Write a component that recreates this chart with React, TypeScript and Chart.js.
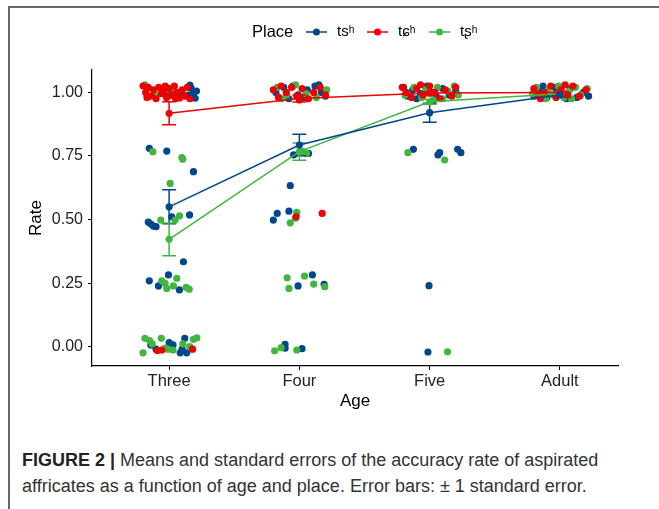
import React, { useEffect, useRef } from "react";
import { Chart, registerables } from "chart.js";

Chart.register(...registerables);

const ages = ["Three", "Four", "Five", "Adult"];
const places = ["tsʰ", "tɕʰ", "tʂʰ"];
const yTicks = [0, 0.25, 0.5, 0.75, 1.0];

// means and standard errors per age (Three, Four, Five, Adult)
const tsMean = [0.55, 0.793, 0.92, 0.99];
const tsSE = [0.067, 0.042, 0.037, 0.008];
const tcMean = [0.918, 0.976, 0.998, 1.0];
const tcSE = [0.045, 0.014, 0.004, 0.003];
const trMean = [0.422, 0.767, 0.963, 0.995];
const trSE = [0.064, 0.034, 0.01, 0.004];

// jittered individual rates: [age position, rate]
const tsPoints: number[][] = [
  [1.16, 1.029], [1.17, 1.016], [1.187, 0.996], [1.149, 0.989], [1.098, 0.996], [1.072, 0.986], [1.046, 0.983], [1.2, 0.977], [0.995, 0.986], [1.21, 1.005],
  [0.848, 0.78], [0.982, 0.769], [1.187, 0.688], [0.84, 0.49], [0.86, 0.482], [0.88, 0.474], [0.9, 0.472], [1.02, 0.511], [1.157, 0.518], [1.11, 0.334],
  [0.848, 0.259], [0.995, 0.282], [0.918, 0.239], [1.079, 0.223],
  [0.86, 0.007], [0.9, -0.01], [1.0, 0.016], [1.03, 0.007], [1.085, -0.024], [1.12, 0.033], [1.1, -0.01], [1.135, -0.024],
  [1.82, 1.0], [1.88, 1.02], [1.95, 1.025], [1.99, 0.99], [2.06, 1.01], [2.12, 1.025], [2.17, 1.0], [2.2, 0.985], [1.92, 0.975], [2.03, 0.98], [2.15, 1.03],
  [1.956, 0.754], [2.07, 0.76], [1.93, 0.633], [1.83, 0.524], [1.8, 0.498], [1.92, 0.533],
  [1.99, 0.239], [2.1, 0.282], [2.19, 0.245],
  [1.89, 0.009], [1.89, -0.006], [2.02, -0.008],
  [2.8, 1.02], [2.83, 0.985], [2.87, 1.01], [2.93, 0.995], [2.98, 1.025], [3.05, 0.985], [3.1, 1.015], [3.15, 0.99], [3.2, 1.005], [2.9, 0.975], [3.02, 1.0],
  [2.875, 0.776], [3.064, 0.754], [3.077, 0.763], [3.215, 0.776], [3.24, 0.763],
  [2.995, 0.24], [2.987, -0.021],
  [3.8, 0.985], [3.84, 1.01], [3.9, 0.98], [3.96, 1.02], [4.02, 0.99], [4.08, 1.015], [4.13, 0.98], [4.18, 1.0], [4.22, 0.985], [3.87, 1.025], [4.05, 0.975],
];

const tcPoints: number[][] = [
  [0.8, 1.025], [0.82, 1.0], [0.84, 1.02], [0.86, 0.985], [0.88, 1.01], [0.9, 0.975], [0.92, 1.02], [0.94, 0.995], [0.96, 1.005], [0.98, 0.98], [1.0, 1.015],
  [1.02, 0.99], [1.04, 1.025], [1.06, 1.0], [1.08, 0.978], [1.1, 1.01], [1.12, 0.985], [1.14, 1.02], [1.16, 0.975], [0.83, 0.98], [0.97, 1.025], [1.05, 0.975],
  [0.944, -0.013], [1.18, -0.01], [0.91, -0.015],
  [1.8, 1.01], [1.84, 0.98], [1.9, 1.0], [1.94, 1.02], [1.98, 0.985], [2.02, 1.015], [2.07, 0.975], [2.11, 1.0], [2.16, 1.02], [2.2, 0.99], [1.86, 1.025], [2.0, 0.97],
  [1.975, 0.511], [2.175, 0.524],
  [2.79, 1.02], [2.82, 1.0], [2.86, 0.98], [2.9, 1.015], [2.95, 0.99], [3.0, 1.025], [3.04, 1.0], [3.08, 0.975], [3.12, 1.01], [3.17, 0.985], [3.2, 1.02], [2.93, 1.03],
  [3.8, 1.015], [3.83, 0.99], [3.88, 1.0], [3.93, 1.025], [3.97, 0.98], [4.01, 1.01], [4.06, 0.99], [4.1, 1.025], [4.15, 0.985], [4.2, 1.01], [3.85, 0.975], [4.04, 1.03],
];

const trPoints: number[][] = [
  [0.815, 1.03], [0.9, 0.99], [1.03, 1.01],
  [0.875, 0.767], [1.098, 0.744], [1.105, 0.737], [1.008, 0.642], [0.936, 0.498], [1.046, 0.498], [1.08, 0.514],
  [0.944, 0.259], [0.969, 0.249], [0.982, 0.229], [1.033, 0.239], [1.059, 0.269], [1.131, 0.233], [1.154, 0.226],
  [0.815, 0.033], [0.85, 0.024], [0.8, -0.024], [0.87, 0.011], [0.94, 0.033], [0.97, -0.006], [0.99, -0.01], [1.03, -0.013], [1.105, 0.011], [1.158, 0.0], [1.187, 0.029], [1.213, 0.035],
  [1.83, 1.02], [1.9, 0.99], [1.97, 1.03], [2.05, 0.995], [2.13, 0.98], [2.21, 1.01], [1.86, 0.975],
  [2.03, 0.767], [2.055, 0.76], [1.98, 0.528], [1.97, 0.505], [1.93, 0.487],
  [1.906, 0.271], [1.92, 0.229], [2.04, 0.278], [2.11, 0.246], [2.195, 0.236],
  [1.81, -0.016], [1.86, -0.004], [1.98, -0.013],
  [2.81, 0.99], [2.88, 1.02], [2.94, 0.98], [3.0, 0.995], [3.06, 1.02], [3.1, 0.975], [3.14, 1.005], [3.19, 1.025], [3.22, 0.99], [3.03, 0.97], [2.97, 1.01],
  [2.833, 0.763], [3.115, 0.734],
  [3.137, -0.02],
  [3.79, 0.995], [3.82, 1.02], [3.86, 0.985], [3.91, 1.01], [3.95, 0.99], [3.99, 1.025], [4.03, 0.98], [4.07, 1.005], [4.12, 1.02], [4.16, 0.99], [4.21, 1.015], [3.89, 0.975], [4.09, 0.975],
];

const colors = ["#00468B", "#ED0000", "#42B540"];
const FONT = "'Liberation Sans', Arial, Helvetica, sans-serif";

export default function App() {
  const ref = useRef<HTMLCanvasElement | null>(null);

  useEffect(() => {
    document.body.style.margin = "0";
    const canvas = ref.current;
    if (!canvas) return;
    const means = [tsMean, tcMean, trMean];
    const ses = [tsSE, tcSE, trSE];
    const pts = [tsPoints, tcPoints, trPoints];

    const errorBars = {
      id: "errorBars",
      afterDatasetDraw(chart: any, args: any) {
        if (args.index !== 5) return;
        const { ctx, scales } = chart;
        const xs = scales.x, ys = scales.y;
        ctx.save();
        ctx.lineWidth = 1.5;
        means.forEach((m, si) => {
          ctx.strokeStyle = colors[si];
          m.forEach((v, i) => {
            const px = xs.getPixelForValue(i + 1);
            const top = ys.getPixelForValue(v + ses[si][i]);
            const bot = ys.getPixelForValue(v - ses[si][i]);
            ctx.beginPath();
            ctx.moveTo(px, top); ctx.lineTo(px, bot);
            ctx.moveTo(px - 7, top); ctx.lineTo(px + 7, top);
            ctx.moveTo(px - 7, bot); ctx.lineTo(px + 7, bot);
            ctx.stroke();
          });
        });
        ctx.restore();
      },
    };

    const legendPlugin = {
      id: "customLegend",
      afterDraw(chart: any) {
        const ctx = chart.ctx;
        ctx.save();
        ctx.font = `16.5px ${FONT}`;
        ctx.fillStyle = "#000";
        ctx.textBaseline = "middle";
        ctx.textAlign = "left";
        const y = 32;
        ctx.fillText("Place", 252, y);
        const lx = [306, 367, 429];
        places.forEach((p, i) => {
          ctx.strokeStyle = colors[i];
          ctx.lineWidth = 1.5;
          ctx.beginPath();
          ctx.moveTo(lx[i], y); ctx.lineTo(lx[i] + 21, y);
          ctx.stroke();
          ctx.fillStyle = colors[i];
          ctx.beginPath();
          ctx.arc(lx[i] + 10.5, y, 3.5, 0, Math.PI * 2);
          ctx.fill();
          ctx.fillStyle = "#000";
          ctx.font = `15px ${FONT}`;
          ctx.fillText(p, lx[i] + 31, y);
        });
        ctx.restore();
      },
    };

    const datasets: any[] = [];
    means.forEach((m, si) => {
      datasets.push({
        label: places[si] + " mean",
        data: m.map((v, i) => ({ x: i + 1, y: v })),
        showLine: true,
        borderColor: colors[si],
        backgroundColor: colors[si],
        borderWidth: 1.5,
        pointRadius: 3.6,
        pointBorderWidth: 0,
        order: 1 + si,
      });
    });
    // scatter: blue bottom (order 8), red (7), green (6)
    const scatterOrder = [8, 6, 7];
    pts.forEach((p, si) => {
      datasets.push({
        label: places[si],
        data: p.map(([x, y]) => ({ x, y })),
        showLine: false,
        backgroundColor: colors[si],
        borderColor: colors[si],
        pointRadius: 3.6,
        pointBorderWidth: 0,
        order: scatterOrder[si],
      });
    });

    const chart = new Chart(canvas, {
      type: "scatter",
      data: { datasets },
      options: {
        animation: false,
        responsive: false,
        layout: { padding: { left: 0, right: 41, top: 70, bottom: 0 } },
        plugins: { legend: { display: false }, tooltip: { enabled: false } },
        scales: {
          x: {
            type: "linear",
            min: 0.408,
            max: 4.446,
            afterFit: (s: any) => { s.height = 54; },
            afterBuildTicks: (s: any) => { s.ticks = ages.map((_, i) => ({ value: i + 1 })); },
            ticks: {
              callback: (v: any) => ages[Number(v) - 1] ?? "",
              color: "#222",
              font: { size: 16.5, family: FONT },
              padding: 2,
              maxRotation: 0,
              autoSkip: false,
            },
            grid: { drawOnChartArea: false, drawTicks: true, tickLength: 4, color: "#000", lineWidth: 1 },
            border: { display: true, color: "#000", width: 1.2 },
            title: { display: true, text: "Age", color: "#000", font: { size: 17, family: FONT }, padding: { top: 0, bottom: 8 } },
          },
          y: {
            type: "linear",
            min: -0.076,
            max: 1.088,
            afterFit: (s: any) => { s.width = 92; },
            afterBuildTicks: (s: any) => { s.ticks = yTicks.map((v) => ({ value: v })); },
            ticks: {
              callback: (v: any) => Number(v).toFixed(2),
              color: "#222",
              font: { size: 16, family: FONT },
              padding: 5,
            },
            grid: { drawOnChartArea: false, drawTicks: true, tickLength: 4, color: "#000", lineWidth: 1 },
            border: { display: true, color: "#000", width: 1.2 },
            title: { display: true, text: "Rate", color: "#000", font: { size: 17, family: FONT }, padding: { top: 26, bottom: 0 } },
          },
        },
      },
      plugins: [errorBars, legendPlugin],
    });
    return () => chart.destroy();
  }, []);

  return (
    <div style={{ position: "relative", width: 659, height: 509, overflow: "hidden", background: "#fff" }}>
      <div style={{ position: "absolute", left: 8, top: 6, width: 660, height: 510, borderLeft: "2px solid #666", borderTop: "2px solid #666", boxSizing: "border-box" }} />
      <canvas ref={ref} width={659} height={420} style={{ position: "absolute", left: 0, top: 0, width: 659, height: 420 }} />
      <div style={{ position: "absolute", left: 22, top: 447, fontFamily: FONT, fontSize: 18, lineHeight: "26px", color: "#333", whiteSpace: "nowrap" }}>
        <b style={{ color: "#222" }}>FIGURE 2 |</b> Means and standard errors of the accuracy rate of aspirated
        <br />
        affricates as a function of age and place. Error bars: ± 1 standard error.
      </div>
    </div>
  );
}
